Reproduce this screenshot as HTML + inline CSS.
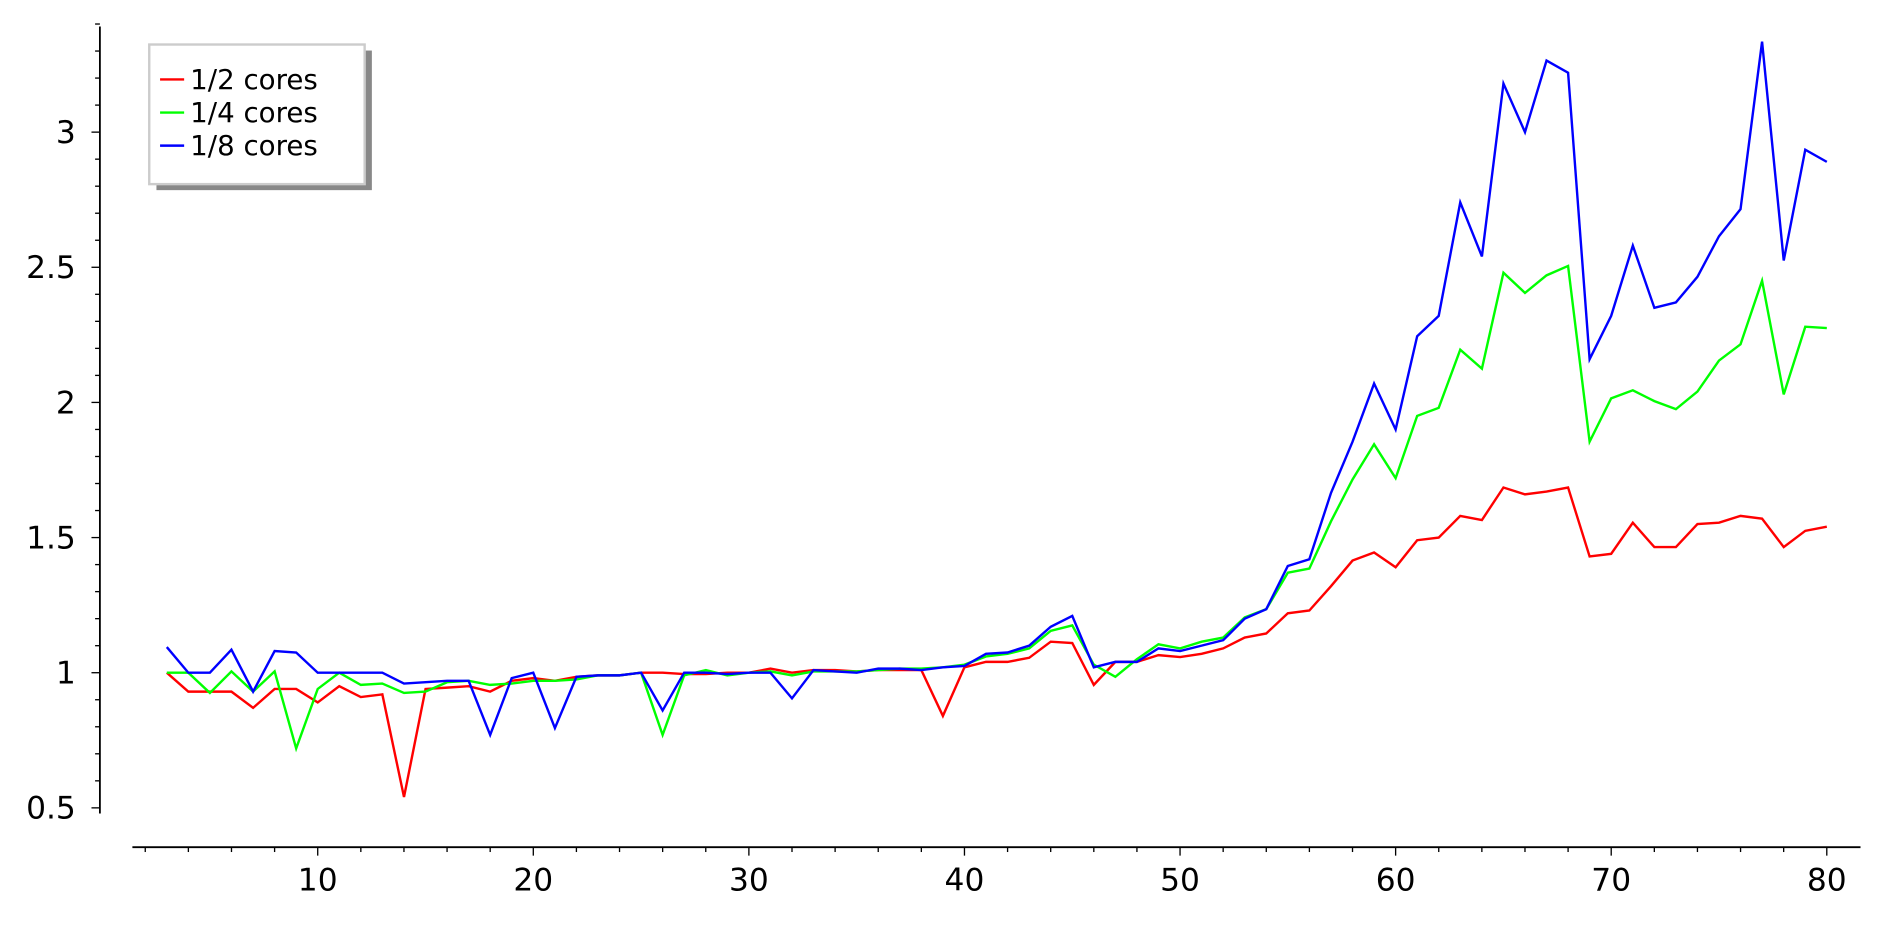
<!DOCTYPE html>
<html><head><meta charset="utf-8"><style>
body{margin:0;background:#fff;}
svg{display:block;font-family:"DejaVu Sans","Liberation Sans",sans-serif;}
</style></head><body>
<svg id="chart" width="1887" height="927" viewBox="0 0 1568 770.3"></svg>
<script>
const xs=[];for(let i=3;i<=80;i++)xs.push(i);
const half=[1.0,0.93,0.93,0.93,0.87,0.94,0.94,0.89,0.95,0.91,0.92,0.54,0.94,0.945,0.95,0.93,0.97,0.98,0.97,0.985,0.99,0.99,1.0,1.0,0.995,0.995,1.0,1.0,1.015,1.0,1.01,1.01,1.005,1.01,1.01,1.01,0.84,1.02,1.04,1.04,1.055,1.115,1.11,0.955,1.04,1.04,1.065,1.058,1.07,1.09,1.13,1.145,1.22,1.23,1.32,1.415,1.445,1.39,1.49,1.5,1.58,1.565,1.685,1.66,1.67,1.685,1.43,1.44,1.555,1.465,1.465,1.55,1.555,1.58,1.57,1.465,1.525,1.54];
const quarter=[1.0,1.0,0.925,1.005,0.93,1.005,0.72,0.94,1.0,0.955,0.96,0.925,0.93,0.965,0.97,0.955,0.96,0.97,0.97,0.975,0.99,0.99,1.0,0.77,0.99,1.01,0.99,1.0,1.005,0.99,1.005,1.005,1.005,1.01,1.015,1.015,1.02,1.03,1.06,1.07,1.09,1.155,1.175,1.03,0.985,1.05,1.105,1.09,1.115,1.13,1.205,1.235,1.37,1.385,1.56,1.715,1.845,1.72,1.95,1.98,2.195,2.125,2.48,2.405,2.47,2.505,1.855,2.015,2.045,2.005,1.975,2.04,2.155,2.215,2.45,2.03,2.28,2.275];
const eighth=[1.095,1.0,1.0,1.085,0.93,1.08,1.075,1.0,1.0,1.0,1.0,0.96,0.965,0.97,0.97,0.77,0.98,1.0,0.795,0.985,0.99,0.99,1.0,0.86,1.0,1.0,0.995,1.0,1.0,0.905,1.01,1.005,1.0,1.015,1.015,1.01,1.02,1.025,1.07,1.075,1.1,1.17,1.21,1.02,1.04,1.04,1.09,1.08,1.1,1.12,1.2,1.235,1.395,1.42,1.665,1.855,2.07,1.9,2.245,2.32,2.74,2.54,3.18,3.0,3.265,3.22,2.16,2.32,2.58,2.35,2.37,2.465,2.615,2.715,3.335,2.525,2.935,2.89];
const yTicks=["0.5","1","1.5","2","2.5","3"];
const xTicks=["10","20","30","40","50","60","70","80"];
const seriesNames=["1/2 cores","1/4 cores","1/8 cores"];
const NS="http://www.w3.org/2000/svg";
const svg=document.getElementById('chart');
const X=v=>264+(v-10)*17.914;
const Y=v=>559-(v-1)*224.6;
function mk(t,a,p){const e=document.createElementNS(NS,t);for(const k in a)e.setAttribute(k,a[k]);(p||svg).appendChild(e);return e;}
let ya=mk('line',{x1:83,y1:22,x2:83,y2:676,stroke:'#000','stroke-width':1.5});


let xa=mk('line',{x1:110,y1:704,x2:1546,y2:704,stroke:'#000','stroke-width':1.5});


for(let v=0.5;v<=3.41;v+=0.1){const y=Y(v);const maj=Math.abs(v*2-Math.round(v*2))<1e-6;
 mk('line',{x1:83-(maj?7:4),y1:y,x2:83,y2:y,stroke:'#000','stroke-width':1.1});}
yTicks.forEach(t=>{const e=mk('text',{x:63,y:Y(+t)+9,'text-anchor':'end','font-size':26});e.textContent=t;
 
 });
for(let v=2;v<=80;v+=2){const x=X(v);const maj=v%10==0;
 mk('line',{x1:x,y1:704,x2:x,y2:704+(maj?7:4),stroke:'#000','stroke-width':1.1});}
xTicks.forEach(t=>{const e=mk('text',{x:X(+t),y:740,'text-anchor':'middle','font-size':26});e.textContent=t;
 
 });
const colors=['#ff0000','#00ff00','#0000ff'];
[half,quarter,eighth].forEach((s,i)=>{
 const pts=s.map((v,j)=>X(xs[j]).toFixed(1)+','+Y(v).toFixed(1)).join(' ');
 const p=mk('polyline',{points:pts,fill:'none',stroke:colors[i],'stroke-width':2});
 
 
});
const lg=mk('g',{});


mk('rect',{x:130,y:42,width:179,height:116,fill:'#888'},lg);
mk('rect',{x:124,y:37,width:179,height:116,fill:'#fff',stroke:'#ccc','stroke-width':2},lg);
seriesNames.forEach((n,i)=>{const y=66+i*27.5;
 mk('line',{x1:133,y1:y,x2:153,y2:y,stroke:colors[i],'stroke-width':2},lg);
 const t=mk('text',{x:158,y:y+8,'font-size':23},lg);t.textContent=n;
 
 
});
</script>
</body></html>
